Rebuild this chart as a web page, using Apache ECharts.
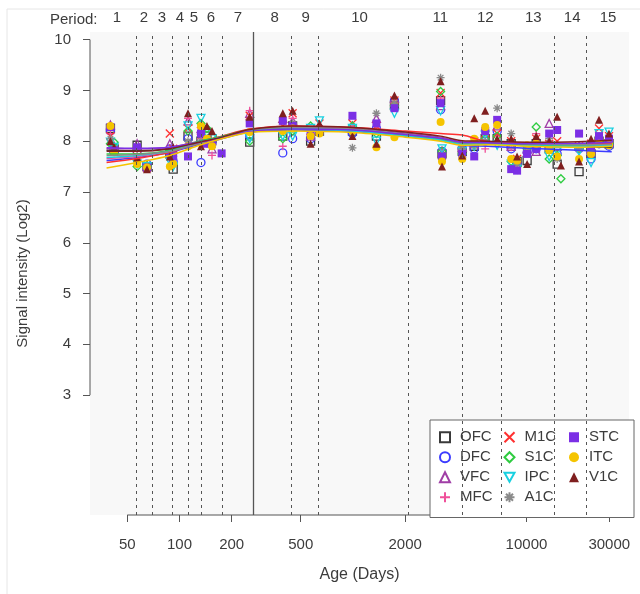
<!DOCTYPE html>
<html>
<head>
<meta charset="utf-8">
<script src="https://cdn.jsdelivr.net/npm/echarts@6/dist/echarts.min.js"></script>
<style>
  html, body { margin: 0; padding: 0; background: #fff; }
  #chart { width: 640px; height: 594px; }
</style>
</head>
<body>
<div id="chart"></div>
<script>
// sample ages (days) and per-region signal values
const ages = [40, 42, 57, 65, 88, 92, 112, 133, 144, 154, 175, 254, 394, 449, 570, 641, 993, 1365, 1734,
  3200, 3260, 4266, 5000, 5785, 6780, 8166, 8831, 10090, 11380, 13520, 15030, 15800, 20100, 23570, 26200, 29920]

const ofcValues = [8.25, 7.85, 7.92, 7.50, 7.75, 7.45, 8.10, 8.00, 8.10, 8.05, null, 7.98, 8.10, 8.30, 8.00, 8.20, 8.20, 8.10, 8.70, 8.80, 7.75, 7.80, 7.90, 8.05, 8.05, 7.95, 7.60, 7.62, 7.95, 7.85, 7.55, null, 7.40, 7.75, 8.00, 7.95]
const dfcValues = [8.20, 7.80, 7.80, 7.55, 7.85, 7.60, 8.05, 7.58, 8.00, 7.95, null, 8.10, 7.77, 8.05, 8.05, 8.25, 8.15, 8.25, 8.80, 8.62, 7.80, 7.85, 7.85, 8.00, 8.20, 7.85, 7.55, 7.78, 7.85, 7.90, 7.75, null, 7.85, 7.65, 7.95, 7.90]
const vfcValues = [8.32, 7.90, 7.95, 7.52, 7.95, 7.85, 8.40, 8.25, 8.00, 7.85, null, 8.55, 8.45, 8.40, 8.10, 8.30, 8.30, 8.45, 8.85, 8.70, 7.78, 7.88, 7.95, 8.10, 8.30, 7.90, 7.60, 7.85, 7.80, 8.35, 7.90, null, 7.90, 7.85, 8.05, 8.00]
const mfcValues = [8.15, 7.85, 7.75, 7.50, 7.80, 7.70, 8.45, 8.05, 7.95, 7.72, null, 8.60, 7.90, 8.45, 8.15, 8.20, 8.25, 8.20, 8.75, 8.85, 7.82, 7.82, 7.90, 7.85, 8.10, 7.88, 7.55, 7.80, 8.15, 8.00, 7.95, null, 7.88, 7.80, 8.10, 8.05]
const m1cValues = [8.10, 7.82, 7.70, 7.48, 8.15, 7.85, 8.25, 8.20, 8.05, 8.00, null, 8.50, 8.30, 8.55, 8.20, 8.35, 8.35, 8.30, 8.80, 8.95, 7.72, 7.90, 8.00, 8.15, 8.15, 8.00, 7.65, 7.90, 8.05, 7.95, 8.00, null, 7.90, 7.95, 8.25, 8.10]
const s1cValues = [7.95, 7.98, 7.50, 7.52, 7.70, 7.55, 8.20, 8.35, 8.25, 8.10, null, 8.00, 8.05, 8.20, 8.30, 8.25, 8.30, 8.15, 8.70, 8.98, 7.80, 7.75, 7.95, 8.05, 8.10, 7.60, 7.50, 7.85, 8.28, 7.65, 7.72, 7.26, 7.85, 7.90, 8.00, 7.95]
const ipcValues = [7.98, 7.88, 7.55, 7.50, 7.60, 7.50, 8.30, 8.45, 8.15, 8.05, null, 8.05, 8.10, 8.10, 8.25, 8.40, 8.25, 8.00, 8.55, 8.60, 7.85, 7.80, 7.90, 8.12, 7.92, 7.55, 7.45, 7.82, 7.90, 7.70, 7.80, null, 7.80, 7.58, 8.15, 8.18]
const a1cValues = [8.05, 7.85, 7.70, 7.50, 7.75, 7.65, 8.00, 8.00, 8.05, 7.95, null, 8.40, 8.20, 8.35, 8.20, 8.25, 7.87, 8.55, 8.75, 9.25, 7.65, 7.85, 7.92, 8.00, 8.65, 8.15, 7.55, 7.80, 7.95, 8.05, 7.65, null, 7.85, 7.85, 8.05, 8.00]
const stcValues = [8.28, 7.82, 7.88, 7.48, 7.75, 7.70, 7.70, 8.15, 7.95, 7.95, 7.76, 8.35, 8.40, 8.30, 8.15, 8.20, 8.50, 8.35, 8.65, 8.75, 7.70, 7.75, 7.70, 8.20, 8.42, 7.45, 7.42, 7.75, 7.85, 8.15, 8.22, null, 8.15, 7.90, 8.10, 8.05]
const itcValues = [8.30, 7.78, 7.55, 7.48, 7.50, 7.55, 7.90, 8.30, 8.05, 7.90, null, 8.18, 8.20, 8.25, 8.10, 8.15, 8.20, 7.88, 8.08, 8.38, 7.60, 7.65, 8.05, 8.28, 8.32, 7.65, 7.62, 7.92, 7.95, 7.82, 7.70, null, 7.65, 7.75, 7.95, 7.92]
const v1cValues = [8.00, 7.88, 7.68, 7.45, 7.70, 7.88, 8.55, 7.90, 8.30, 8.20, null, 8.48, 8.55, 8.60, 7.95, 8.35, 8.10, 7.95, 8.90, 9.18, 7.50, 7.72, 8.45, 8.60, 8.05, 8.05, 7.70, 7.55, 8.10, 8.00, 8.48, 7.52, 7.60, 8.05, 8.42, 8.15]

// fitted curves, read at a few ages
const trendAges = [38, 57, 88, 130, 175, 254, 450, 1000, 2000, 3200, 4266, 6000, 10000, 20000, 31000]
const ofcTrend = [7.82, 7.81, 7.85, 7.97, 8.07, 8.20, 8.25, 8.22, 8.12, 8.04, 7.97, 7.95, 7.92, 7.90, 7.88]
const dfcTrend = [7.62, 7.68, 7.78, 7.94, 8.05, 8.18, 8.22, 8.19, 8.10, 8.02, 7.92, 7.90, 7.86, 7.82, 7.79]
const vfcTrend = [7.85, 7.85, 7.88, 8.00, 8.08, 8.22, 8.28, 8.26, 8.16, 8.08, 7.98, 7.98, 7.96, 7.95, 7.95]
const mfcTrend = [7.66, 7.70, 7.80, 7.96, 8.07, 8.22, 8.26, 8.22, 8.13, 8.05, 7.96, 7.95, 7.94, 7.93, 7.95]
const m1cTrend = [7.58, 7.66, 7.78, 7.98, 8.10, 8.24, 8.30, 8.27, 8.20, 8.15, 8.12, 7.99, 7.96, 7.95, 7.96]
const s1cTrend = [7.75, 7.75, 7.82, 8.00, 8.09, 8.22, 8.26, 8.21, 8.12, 8.04, 7.96, 7.96, 7.93, 7.92, 7.93]
const ipcTrend = [7.68, 7.72, 7.80, 7.98, 8.08, 8.20, 8.24, 8.20, 8.10, 8.02, 7.94, 7.94, 7.91, 7.90, 7.92]
const a1cTrend = [7.72, 7.74, 7.80, 7.96, 8.07, 8.22, 8.27, 8.24, 8.14, 8.06, 7.97, 7.97, 7.95, 7.93, 7.94]
const stcTrend = [7.87, 7.86, 7.88, 7.98, 8.06, 8.19, 8.24, 8.22, 8.13, 8.06, 7.98, 7.97, 7.95, 7.96, 7.98]
const itcTrend = [7.47, 7.58, 7.72, 7.92, 8.05, 8.17, 8.20, 8.17, 8.08, 8.00, 7.92, 7.93, 7.90, 7.88, 7.90]
const v1cTrend = [7.80, 7.80, 7.85, 7.98, 8.08, 8.23, 8.30, 8.27, 8.18, 8.10, 8.01, 8.00, 7.98, 7.99, 8.02]

const regions = ['OFC', 'DFC', 'VFC', 'MFC', 'M1C', 'S1C', 'IPC', 'A1C', 'STC', 'ITC', 'V1C']
const regionValues = [ofcValues, dfcValues, vfcValues, mfcValues, m1cValues, s1cValues, ipcValues, a1cValues, stcValues, itcValues, v1cValues]
const regionTrends = [ofcTrend, dfcTrend, vfcTrend, mfcTrend, m1cTrend, s1cTrend, ipcTrend, a1cTrend, stcTrend, itcTrend, v1cTrend]

// axis ticks and period marks
const xTickValues = [50, 100, 200, 500, 2000, 10000, 30000]
const yTickValues = [3, 4, 5, 6, 7, 8, 9, 10]
const periodBounds = [56, 70, 91, 112, 133, 176, 443, 634, 2089, 4273, 7165, 14450, 22080]
const birthDay = 268
const periodCenters = [43.6, 62.4, 79.2, 100.5, 121, 151.7, 216.9, 354, 534, 1091, 3191, 5794, 10940, 18340, 29540]
const periodLabels = ['1', '2', '3', '4', '5', '6', '7', '8', '9', '10', '11', '12', '13', '14', '15']

const xMin = 30.5
const xMax = 39000
const yMin = 0.64
const yMax = 10.15

const colors = ['#3a3a3a', '#3b3bff', '#a03ea6', '#f0509a', '#ff3030', '#2ecc40', '#18d0e0', '#8a8a8a', '#7b2fe5', '#f5c400', '#7f1f1f']
const symbols = [
  'rect', 'circle', 'triangle', 'path://M5,0L5,10M0,5L10,5', 'path://M0,0L10,10M10,0L0,10',
  'diamond', 'path://M0,0L10,0L5,9Z', 'path://M5,0L5,10M0,5L10,5M1.5,1.5L8.5,8.5M8.5,1.5L1.5,8.5',
  'rect', 'circle', 'triangle'
]
const filled = [false, false, false, false, false, false, false, false, true, true, true]

const font = "'Liberation Sans', Arial, sans-serif"
const textColor = '#3c3c3c'

const chart = echarts.init(document.getElementById('chart'))

// label for a period centre, looked up by value
const periodLabelFor = v => {
  let best = 0
  periodCenters.forEach((c, i) => {
    if (Math.abs(Math.log(c / v)) < Math.abs(Math.log(periodCenters[best] / v))) best = i
  })
  return periodLabels[best]
}

const series = []

// period boundaries
series.push({
  type: 'line',
  data: [],
  silent: true,
  z: 1,
  markLine: {
    symbol: 'none',
    silent: true,
    label: { show: false },
    lineStyle: { color: '#555', type: [3, 4], width: 1 },
    data: periodBounds.map(d => ({ xAxis: d }))
  }
})
series.push({
  type: 'line',
  data: [],
  silent: true,
  z: 1,
  markLine: {
    symbol: 'none',
    silent: true,
    label: { show: false },
    lineStyle: { color: '#555', type: 'solid', width: 1.3 },
    data: [{ xAxis: birthDay }]
  }
})

// R-style axis lines
series.push({
  type: 'line', silent: true, symbol: 'none', clip: false, z: 2,
  lineStyle: { color: '#555', width: 1 },
  data: [[xMin, 3], [xMin, 10]]
})
series.push({
  type: 'line', silent: true, symbol: 'none', clip: false, z: 2,
  lineStyle: { color: '#555', width: 1 },
  data: [[xTickValues[0], yMin], [xTickValues[xTickValues.length - 1], yMin]]
})

regions.forEach((name, i) => {
  const pts = []
  ages.forEach((a, j) => {
    if (regionValues[i][j] != null) pts.push([a, regionValues[i][j]])
  })
  series.push({
    name: name,
    type: 'scatter',
    data: pts,
    symbol: symbols[i],
    symbolSize: 8,
    z: 3,
    itemStyle: filled[i]
      ? { color: colors[i], opacity: 1 }
      : { color: 'rgba(0,0,0,0)', borderColor: colors[i], borderWidth: 1.3, opacity: 1 }
  })
})

regions.forEach((name, i) => {
  series.push({
    name: name + ' fit',
    type: 'line',
    smooth: 0.3,
    showSymbol: false,
    symbol: 'none',
    z: 4,
    lineStyle: { color: colors[i], width: 1.5 },
    data: trendAges.map((a, j) => [a, regionTrends[i][j]])
  })
})

const option = {
  animation: false,
  backgroundColor: '#fff',
  textStyle: { fontFamily: font },
  grid: {
    left: 90, right: 11, top: 32, bottom: 79,
    show: true, backgroundColor: '#f8f8f8', borderWidth: 0
  },
  legend: {
    data: regions,
    orient: 'vertical',
    left: 430,
    top: 420,
    height: 80,
    padding: [8, 3, 11, 9],
    itemGap: 1.5,
    itemWidth: 10,
    itemHeight: 10,
    backgroundColor: '#fff',
    borderColor: '#666',
    borderWidth: 1,
    textStyle: { fontSize: 15, color: textColor, width: 42, lineHeight: 18.5, padding: [0, 0, 0, 5], fontFamily: font }
  },
  graphic: [
    { type: 'text', left: 50, top: 12, style: { text: 'Period:', fill: textColor, font: '15px ' + font } },
    { type: 'line', shape: { x1: 7, y1: 9, x2: 640, y2: 9 }, style: { stroke: '#e6e6e6', lineWidth: 1 } },
    { type: 'line', shape: { x1: 7, y1: 9, x2: 7, y2: 594 }, style: { stroke: '#e6e6e6', lineWidth: 1 } }
  ],
  xAxis: [
    {
      type: 'log',
      logBase: 10,
      min: xMin,
      max: xMax,
      name: 'Age (Days)',
      nameLocation: 'middle',
      nameGap: 52,
      nameTextStyle: { fontSize: 16, color: textColor, fontFamily: font },
      axisLine: { show: false },
      splitLine: { show: false },
      minorTick: { show: false },
      axisTick: { show: true, length: 7, customValues: xTickValues, lineStyle: { color: '#555' } },
      axisLabel: {
        customValues: xTickValues,
        margin: 22,
        fontSize: 15,
        color: textColor,
        formatter: v => String(Math.round(v))
      }
    },
    {
      type: 'log',
      logBase: 10,
      position: 'top',
      min: xMin,
      max: xMax,
      axisLine: { show: false },
      axisTick: { show: false },
      splitLine: { show: false },
      axisLabel: {
        show: true,
        customValues: periodCenters,
        margin: 7,
        fontSize: 15,
        color: textColor,
        formatter: v => periodLabelFor(v)
      }
    }
  ],
  yAxis: {
    type: 'value',
    min: yMin,
    max: yMax,
    name: 'Signal intensity (Log2)',
    nameLocation: 'middle',
    nameGap: 60,
    nameTextStyle: { fontSize: 15, color: textColor, fontFamily: font },
    axisLine: { show: false },
    splitLine: { show: false },
    axisTick: { show: true, length: 7, customValues: yTickValues, lineStyle: { color: '#555' } },
    axisLabel: { customValues: yTickValues, margin: 19, fontSize: 15, color: textColor }
  },
  series: series
}

chart.setOption(option)
</script>
</body>
</html>
